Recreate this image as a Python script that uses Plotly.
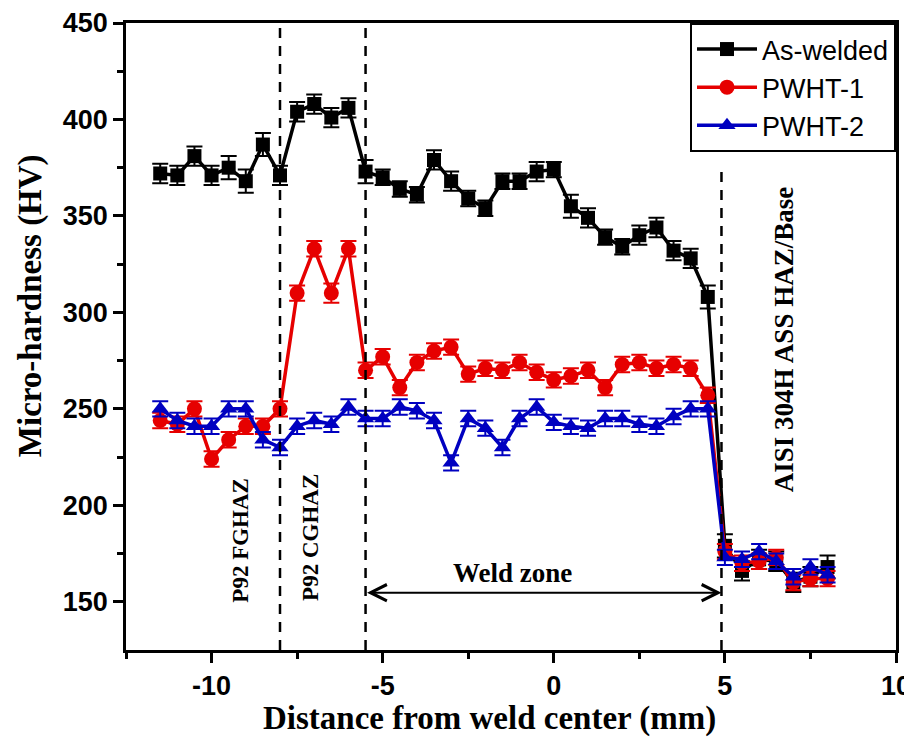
import plotly.graph_objects as go

# ---------------- data ----------------
distance_mm = [-11.5, -11, -10.5, -10, -9.5, -9, -8.5, -8, -7.5, -7, -6.5, -6,
               -5.5, -5, -4.5, -4, -3.5, -3, -2.5, -2, -1.5, -1, -0.5, 0,
               0.5, 1, 1.5, 2, 2.5, 3, 3.5, 4, 4.5, 5, 5.5, 6, 6.5, 7, 7.5, 8]

as_welded = [372, 371, 381, 371, 375, 368, 387, 371, 404, 408, 401, 406,
             373, 370, 364, 361, 379, 368, 359, 354, 368, 368, 373, 374,
             355, 349, 339, 334, 340, 344, 332, 328, 308, 179, 166, 172, 171, 160, 163, 168]
as_welded_err = [5, 5, 5, 5, 6, 6, 6, 5, 5, 5, 5, 5,
                 6, 4, 4, 4, 5, 5, 4, 4, 4, 4, 5, 4,
                 6, 5, 4, 4, 5, 5, 5, 5, 6, 6, 5, 5, 5, 5, 5, 6]

pwht_1 = [244, 242, 250, 224, 234, 241, 241, 250, 310, 333, 310, 333,
          270, 277, 261, 274, 280, 282, 268, 271, 270, 274, 269, 265,
          267, 270, 261, 273, 274, 271, 273, 271, 257, 176, 170, 171, 173, 160, 162, 162]
pwht_1_err = [4, 4, 4, 4, 4, 4, 4, 4, 4, 4, 5, 4,
              4, 4, 4, 4, 4, 4, 4, 4, 4, 4, 4, 4,
              4, 4, 4, 4, 4, 4, 4, 4, 4, 4, 4, 4, 4, 4, 4, 4]

pwht_2 = [250, 244, 241, 241, 250, 250, 234, 230, 241, 244, 242, 251,
          245, 245, 251, 249, 244, 222, 245, 240, 230, 245, 251, 243,
          241, 240, 245, 245, 242, 241, 246, 250, 250, 173, 172, 176, 171, 163, 168, 164]
pwht_2_err = [4, 4, 4, 4, 4, 4, 4, 4, 4, 4, 4, 4,
              4, 4, 4, 4, 4, 4, 4, 4, 4, 4, 4, 4,
              4, 4, 4, 4, 4, 4, 4, 4, 4, 4, 4, 4, 4, 4, 4, 4]

series_names = ["As-welded", "PWHT-1", "PWHT-2"]
zone_boundaries = [-8, -5.5, 4.9]
x_ticks = [-10, -5, 0, 5, 10]
y_ticks = [150, 200, 250, 300, 350, 400, 450]

SERIF = "Liberation Serif, Times New Roman, serif"
SANS = "Liberation Sans, Arial, sans-serif"
BLACK = "#000000"
RED = "#e60000"
BLUE = "#0000c0"

fig = go.Figure()

specs = [
    (as_welded, as_welded_err, series_names[0], BLACK, "square", 14),
    (pwht_1, pwht_1_err, series_names[1], RED, "circle", 15),
    (pwht_2, pwht_2_err, series_names[2], BLUE, "triangle-up", 15),
]
for vals, errs, name, col, sym, sz in specs:
    fig.add_trace(go.Scatter(
        x=distance_mm, y=vals, name=name, mode="lines+markers",
        line=dict(color=col, width=3.5),
        marker=dict(symbol=sym, size=sz, color=col, line=dict(width=0)),
        error_y=dict(type="data", array=errs, visible=True, color=col,
                     thickness=2, width=8),
    ))

# dashed zone boundaries
for i, xb in enumerate(zone_boundaries):
    if i < 2:
        fig.add_shape(type="line", xref="x", yref="paper", x0=xb, x1=xb, y0=0, y1=1,
                      line=dict(color=BLACK, width=2.5, dash="10px,8px"))
    else:
        fig.add_shape(type="line", xref="x", yref="y", x0=xb, x1=xb, y0=125, y1=375,
                      line=dict(color=BLACK, width=2.5, dash="10px,8px"))

# double arrow for weld zone
fig.add_annotation(x=zone_boundaries[2], y=154.7, ax=zone_boundaries[1], ay=154.7,
                   xref="x", yref="y", axref="x", ayref="y", text="",
                   showarrow=True, arrowside="end+start", arrowhead=5,
                   arrowsize=1.6, arrowwidth=2, arrowcolor=BLACK)

fig.add_annotation(x=-1.2, y=165, xref="x", yref="y", text="<b>Weld zone</b>",
                   showarrow=False, font=dict(family=SERIF, size=27, color=BLACK))
fig.add_annotation(x=-9.18, y=182, xref="x", yref="y", text="<b>P92 FGHAZ</b>",
                   textangle=-90, showarrow=False,
                   font=dict(family=SERIF, size=23, color=BLACK))
fig.add_annotation(x=-7.13, y=183.5, xref="x", yref="y", text="<b>P92 CGHAZ</b>",
                   textangle=-90, showarrow=False,
                   font=dict(family=SERIF, size=23, color=BLACK))
fig.add_annotation(x=6.75, y=286, xref="x", yref="y", text="<b>AISI 304H ASS HAZ/Base</b>",
                   textangle=-90, showarrow=False,
                   font=dict(family=SERIF, size=27, color=BLACK))

# axis titles (placed as annotations for exact positioning)
fig.add_annotation(x=0.4727, y=-0.1085, xref="paper", yref="paper",
                   text="<b>Distance from weld center (mm)</b>", showarrow=False,
                   xanchor="center", yanchor="middle",
                   font=dict(family=SERIF, size=33, color=BLACK))
fig.add_annotation(x=-0.1245, y=0.5486, xref="paper", yref="paper",
                   text="<b>Micro-hardness (HV)</b>", showarrow=False, textangle=-90,
                   xanchor="center", yanchor="middle",
                   font=dict(family=SERIF, size=33, color=BLACK))

# figure is 8 px smaller than the window because the page body adds an 8 px margin
fig.update_layout(
    width=904, height=729,
    margin=dict(l=118, r=16, t=15, b=87, autoexpand=False),
    paper_bgcolor="white", plot_bgcolor="white",
    showlegend=True,
    legend=dict(x=1, y=1, xanchor="right", yanchor="top",
                bordercolor=BLACK, borderwidth=2, bgcolor="white",
                font=dict(family=SANS, size=27, color=BLACK),
                tracegroupgap=0, itemwidth=60),
    xaxis=dict(range=[-12.5, 10], tickvals=x_ticks, ticktext=[str(t) for t in x_ticks],
               automargin=False,
               ticks="outside", ticklen=10, tickwidth=2.5, tickcolor=BLACK,
               showline=True, linewidth=2.5, linecolor=BLACK, mirror=True,
               showgrid=False, zeroline=False,
               minor=dict(tickvals=[-12.5, -7.5, -2.5, 2.5, 7.5], ticks="outside",
                          ticklen=6, tickwidth=2.5, tickcolor=BLACK),
               tickfont=dict(family=SANS, size=27, color=BLACK, weight="bold")),
    yaxis=dict(range=[125, 450], tickvals=y_ticks, ticktext=[str(t) for t in y_ticks],
               automargin=False,
               ticks="outside", ticklen=10, tickwidth=2.5, tickcolor=BLACK,
               showline=True, linewidth=2.5, linecolor=BLACK, mirror=True,
               showgrid=False, zeroline=False,
               minor=dict(tickvals=[175, 225, 275, 325, 375, 425], ticks="outside",
                          ticklen=6, tickwidth=2.5, tickcolor=BLACK),
               tickfont=dict(family=SANS, size=27, color=BLACK, weight="bold")),
)

fig.write_html("out.html")
